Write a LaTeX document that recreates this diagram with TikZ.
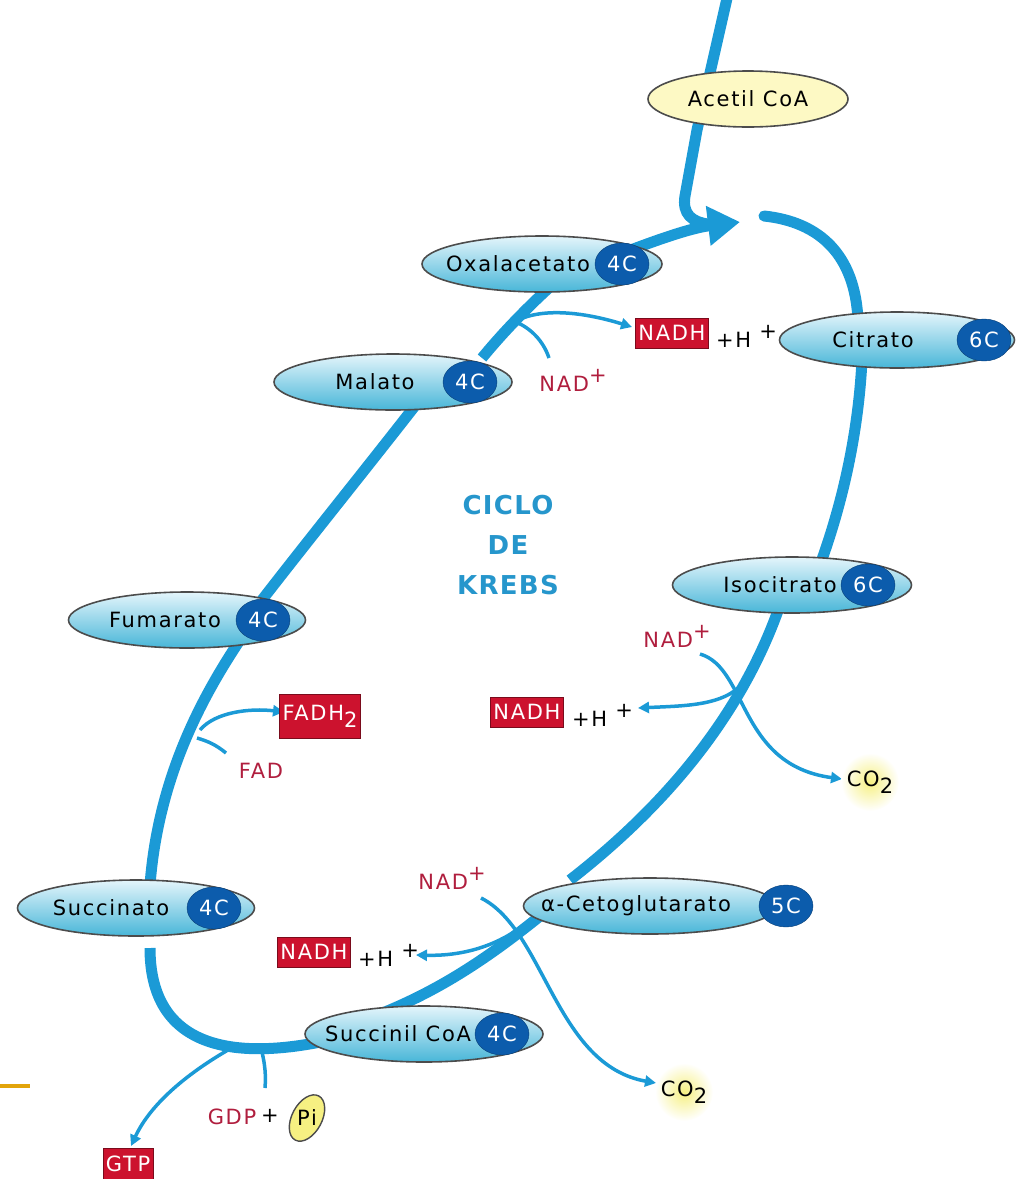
\documentclass[tikz,border=0pt]{standalone}
\usepackage{fontspec}
\setmainfont{DejaVu Sans}
\newfontfamily\labfont[LetterSpace=8]{DejaVu Sans}
\newfontfamily\krebsfont[LetterSpace=5]{DejaVu Sans}
\usetikzlibrary{shapes.geometric,arrows.meta}
\definecolor{cycblue}{RGB}{27,154,214}
\definecolor{metlight}{RGB}{228,245,251}
\definecolor{metdark}{RGB}{72,182,216}
\definecolor{badgeblue}{RGB}{12,92,172}
\definecolor{boxred}{RGB}{204,18,46}
\definecolor{redtext}{RGB}{176,30,62}
\definecolor{acetyl}{RGB}{253,249,196}
\definecolor{glow}{RGB}{246,240,130}
\definecolor{krebsblue}{RGB}{38,150,204}
\definecolor{slidemark}{RGB}{226,164,10}
\newcommand\lbl{\labfont\fontsize{21}{25}\selectfont}
\newcommand\upplus{\raisebox{9pt}{+}}

\begin{document}
\begin{tikzpicture}[x=1pt,y=-1pt,
 cyc/.style={draw=cycblue,line width=11pt},
 side/.style={draw=cycblue,line width=3.5pt},
 met/.style={ellipse,draw=black!70,line width=1.6pt,top color=metlight,bottom color=metdark,minimum height=56pt,inner sep=0pt},
 lab/.style={inner sep=0pt,font=\lbl},
 badge/.style={ellipse,fill=badgeblue,draw=badgeblue!70!black,text=white,minimum width=54pt,minimum height=42pt,inner sep=0pt,font=\lbl},
 redbox/.style={fill=boxred,draw=boxred!60!black,text=white,inner sep=3pt,minimum height=30pt,font=\lbl},
 redlab/.style={inner sep=0pt,text=redtext,font=\lbl},
 gas/.style={circle,inner color=glow,outer color=white,minimum size=58pt,inner sep=0pt,font=\lbl},
 bigtip/.style={-{Triangle[length=32pt,width=38pt]}},
 tip/.style={-{Triangle[length=11pt,width=11pt]}}]
\useasboundingbox (0,0) rectangle (1017,1179);

% main cycle
\draw[cyc] (728,-6) -- (697,130) -- (685,196) .. controls (682,214) and (692,222) .. (708,224);
\draw[cyc,bigtip] (600,262) .. controls (650,242) and (690,228) .. (740,222);
\draw[cyc,line cap=round] (764,216) .. controls (820,222) and (855,255) .. (858,320);
\draw[cyc] (862,360) .. controls (858,440) and (840,510) .. (820,565);
\draw[cyc] (780,605) .. controls (740,720) and (660,810) .. (570,880);
\draw[cyc] (545,912) .. controls (480,965) and (430,995) .. (370,1018);
\draw[cyc] (330,1040) .. controls (220,1064) and (150,1040) .. (150,948);
\draw[cyc] (150,885) .. controls (158,780) and (200,700) .. (240,640);
\draw[cyc] (262,600) .. controls (310,538) and (365,470) .. (418,402);
\draw[cyc] (482,358) .. controls (505,330) and (530,305) .. (552,285);

% side reactions
\draw[side] (549,358) .. controls (543,340) and (530,328) .. (516,322);
\draw[side,tip] (516,321) .. controls (545,306) and (590,314) .. (632,327);
\draw[side,tip] (200,730) .. controls (215,712) and (250,708) .. (284,712);
\draw[side] (226,753) .. controls (215,744) and (207,741) .. (197,738);
\draw[side,tip] (700,654) .. controls (748,668) and (738,765) .. (842,779);
\draw[side,tip] (738,688) .. controls (718,706) and (680,706) .. (638,708);
\draw[side,tip] (481,898) .. controls (545,930) and (555,1065) .. (656,1083);
\draw[side,tip] (530,920) .. controls (495,950) and (455,956) .. (416,955);
\draw[side,tip] (228,1050) .. controls (185,1075) and (150,1105) .. (131,1146);
\draw[side] (262,1052) .. controls (265,1065) and (266,1075) .. (265,1088);

% metabolites
\node[ellipse,draw=black!70,line width=1.6pt,fill=acetyl,minimum width=200pt,minimum height=56pt,font=\lbl] (acetil) at (748,99) {Acetil CoA};
\foreach \n/\x/\y/\w/\tx/\t/\bx/\b in {
 oxal/542/264/240/518/Oxalacetato/622/4C,
 citr/897/340/235/873/Citrato/984/6C,
 mala/393/382/238/375/Malato/470/4C,
 isoc/792/585/239/780/Isocitrato/868/6C,
 fuma/187/620/237/165/Fumarato/263/4C,
 succ/136/908/237/111/Succinato/214/4C,
 ceto/650/906/253/636/α-Cetoglutarato/786/5C,
 scoa/424/1034/238/398/Succinil CoA/502/4C}
{
 \node[met,minimum width=\w pt] (\n) at (\x,\y) {};
 \node[lab] (\n-t) at (\tx,\y) {\t};
 \node[badge] (\n-c) at (\bx,\y) {\b};
}

% products
\node[redbox] (nadh-a) at (672,333) {NADH};
\node[lab,anchor=west] (h-a) at (716,336) {+H\hspace{8pt}\upplus};
\node[redlab] (nad-a) at (573,380) {NAD\upplus};
\node[redbox] (nadh-b) at (527,712) {NADH};
\node[lab,anchor=west] (h-b) at (572,715) {+H\hspace{8pt}\upplus};
\node[redlab] (nad-b) at (677,636) {NAD\upplus};
\node[gas] (co2-a) at (870,782) {CO\raisebox{-7pt}{2}};
\node[redbox,minimum height=44pt] (fadh) at (320,716) {FADH\raisebox{-7pt}{2}};
\node[redlab] (fad) at (261,771) {FAD};
\node[redbox] (nadh-c) at (314,952) {NADH};
\node[lab,anchor=west] (h-c) at (358,955) {+H\hspace{8pt}\upplus};
\node[redlab] (nad-c) at (452,878) {NAD\upplus};
\node[gas] (co2-b) at (684,1092) {CO\raisebox{-7pt}{2}};
\node[redlab] (gdp) at (232,1117) {GDP};
\node[lab] (gplus) at (270,1116) {+};
\node[ellipse,draw=black!70,line width=1.4pt,fill=glow,minimum width=50pt,minimum height=30pt,inner sep=0pt,rotate=62,font=\lbl] (pi) at (307,1118) {};
\node[lab] (pi-t) at (307,1118) {Pi};
\node[redbox,minimum height=32pt] (gtp) at (128,1164) {GTP};

\node[align=center,inner sep=0pt,text=krebsblue,font=\krebsfont\bfseries\fontsize{26}{40}\selectfont] (title) at (508,545) {CICLO\\DE\\KREBS};

\draw[slidemark,line width=3.5pt] (0,1086) -- (30,1086);
\end{tikzpicture}
\end{document}
